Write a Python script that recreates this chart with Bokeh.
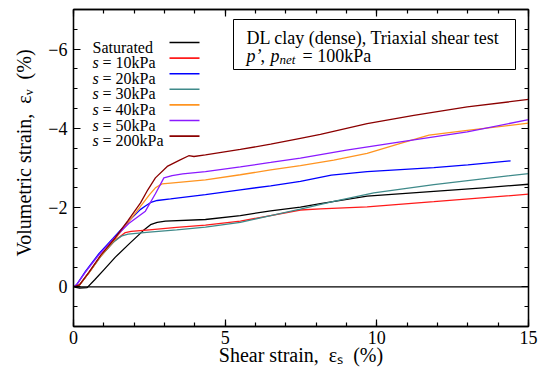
from bokeh.plotting import figure
from bokeh.models import (Range1d, FixedTicker, LinearAxis, CustomJSTickFormatter,
                          Span, Label, BoxAnnotation, Arrow)
from bokeh.embed import file_html
from bokeh.resources import INLINE

# ---------------- data ----------------
sat_x = [0, 0.2, 0.45, 0.7, 1.0, 1.38, 1.8, 2.3, 2.54, 2.76, 3.03, 4.35, 5.5, 6.5, 7.48, 8.14, 9.68, 11.88, 13.5, 15.0]
sat_y = [0, 0.03, 0.02, -0.18, -0.43, -0.75, -1.06, -1.42, -1.57, -1.63, -1.66, -1.7, -1.8, -1.92, -2.01, -2.1, -2.29, -2.41, -2.5, -2.59]

s10_x = [0, 0.2, 0.5, 0.9, 1.38, 1.71, 1.9, 2.5, 3.4, 4.35, 5.5, 6.5, 7.48, 8.14, 9.68, 11.88, 15.0]
s10_y = [0, -0.05, -0.35, -0.78, -1.18, -1.37, -1.4, -1.44, -1.5, -1.56, -1.66, -1.8, -1.94, -1.97, -2.02, -2.15, -2.34]

s20_x = [0, 0.1, 0.4, 0.83, 1.3, 1.82, 2.2, 2.37, 2.55, 2.76, 3.2, 4.35, 5.5, 6.5, 7.48, 8.5, 9.68, 11.88, 13.0, 14.41]
s20_y = [0, -0.05, -0.4, -0.83, -1.22, -1.66, -1.95, -2.04, -2.13, -2.18, -2.22, -2.33, -2.45, -2.55, -2.66, -2.82, -2.91, -3.01, -3.08, -3.18]

s30_x = [0, 0.2, 0.5, 0.9, 1.3, 1.6, 1.8, 2.5, 3.4, 4.35, 5.5, 6.5, 7.48, 8.58, 9.9, 11.88, 15.0]
s30_y = [0, -0.05, -0.35, -0.77, -1.12, -1.29, -1.33, -1.38, -1.44, -1.51, -1.63, -1.8, -1.96, -2.16, -2.37, -2.58, -2.86]

s40_x = [0, 0.2, 0.5, 0.9, 1.38, 1.8, 2.26, 2.5, 2.7, 2.92, 3.2, 4.35, 5.5, 6.5, 7.48, 8.58, 9.68, 10.78, 11.72, 12.98, 15.0]
s40_y = [0, -0.05, -0.35, -0.78, -1.22, -1.62, -2.08, -2.32, -2.5, -2.6, -2.62, -2.7, -2.83, -2.95, -3.06, -3.2, -3.37, -3.62, -3.83, -3.95, -4.13]

s50_x = [0, 0.1, 0.4, 0.83, 1.3, 1.82, 2.37, 2.7, 2.98, 3.25, 3.6, 4.35, 5.5, 6.5, 7.48, 9.0, 10.78, 12.98, 15.0]
s50_y = [0, -0.05, -0.38, -0.8, -1.2, -1.6, -1.91, -2.35, -2.75, -2.81, -2.85, -2.91, -3.03, -3.14, -3.25, -3.45, -3.66, -3.91, -4.22]

s200_x = [0, 0.2, 0.5, 0.9, 1.38, 1.8, 2.21, 2.45, 2.7, 3.09, 3.5, 3.8, 3.97, 4.35, 5.5, 6.5, 7.48, 8.14, 9.68, 11.22, 12.98, 15.0]
s200_y = [0, -0.05, -0.36, -0.8, -1.24, -1.68, -2.12, -2.45, -2.75, -3.04, -3.2, -3.31, -3.29, -3.33, -3.47, -3.6, -3.75, -3.85, -4.12, -4.33, -4.54, -4.73]

series_names = ["Saturated", "10kPa", "20kPa", "30kPa", "40kPa", "50kPa", "200kPa"]
series_colors = ["#000000", "#ff1a1a", "#0000ff", "#3f8a8a", "#ff9420", "#8a1aff", "#8b0000"]
series_data = [(sat_x, sat_y), (s10_x, s10_y), (s20_x, s20_y), (s30_x, s30_y),
               (s40_x, s40_y), (s50_x, s50_y), (s200_x, s200_y)]

x_major = [0, 5, 10, 15]
y_major = [-6, -4, -2, 0]
NB = "\u00a0"
x_title = "Shear strain," + NB + NB + "\u03b5\u209b" + NB + NB + "(%)"
y_title = NB * 6 + "Volumetric strain," + NB + NB + "\u03b5\u1d65" + NB + NB + "(%)"

FONT = "Liberation Serif"

p = figure(frame_width=455, frame_height=317,
           x_range=Range1d(0, 15), y_range=Range1d(1, -7),
           output_backend="svg", toolbar_location=None,
           min_border_left=73, min_border_right=20, min_border_top=9, min_border_bottom=46,
           background_fill_color="white", border_fill_color="white")
p.grid.visible = False
p.outline_line_color = "black"
p.outline_line_width = 1.3

xt = FixedTicker(ticks=x_major, minor_ticks=list(range(0, 16)))
yt = FixedTicker(ticks=y_major, minor_ticks=[-7 + 0.5 * i for i in range(17)])
fmt = CustomJSTickFormatter(code="return tick < 0 ? '\u2212' + Math.abs(tick) : String(tick);")

p.xaxis.ticker = xt
p.yaxis.ticker = yt
p.yaxis.formatter = fmt

for ax in (p.xaxis[0], p.yaxis[0]):
    ax.major_tick_in = 7
    ax.major_tick_out = 0
    ax.minor_tick_in = 4
    ax.minor_tick_out = 0
    ax.axis_line_width = 1.3
    ax.major_tick_line_width = 1.2
    ax.minor_tick_line_width = 1.2
    ax.major_label_text_font = FONT
    ax.major_label_text_font_size = "18px"
    ax.major_label_text_color = "black"
    ax.axis_label_text_font = FONT
    ax.axis_label_text_font_size = "20px"
    ax.axis_label_text_font_style = "normal"
    ax.axis_label_text_color = "black"
p.xaxis.axis_label = x_title
p.yaxis.axis_label = y_title
p.xaxis.major_label_standoff = 4
p.yaxis.major_label_standoff = 6
p.xaxis.axis_label_standoff = -3
p.yaxis.axis_label_standoff = 10

for loc, tk in (("above", xt), ("right", yt)):
    ax = LinearAxis(ticker=tk, major_tick_in=7, major_tick_out=0, minor_tick_in=4, minor_tick_out=0,
                    major_label_text_font_size="1px", major_label_text_color=None,
                    major_label_standoff=0,
                    axis_line_width=1.3, major_tick_line_width=1.2, minor_tick_line_width=1.2)
    p.add_layout(ax, loc)

p.add_layout(Span(location=0, dimension="width", line_color="black", line_width=1.3))

for (xs, ys), c in zip(series_data, series_colors):
    p.line(xs, ys, line_color=c, line_width=1.3)


def lab(x, y, text, size="18px", style="normal"):
    p.add_layout(Label(x=x, y=y, x_units="screen", y_units="screen", text=text,
                       text_font=FONT, text_font_size=size, text_font_style=style,
                       text_color="black", text_baseline="alphabetic"))


# ---- legend (label left, line sample right) ----
for i, (name, c) in enumerate(zip(series_names, series_colors)):
    base = 326 - (46.5 + i * 15.6)
    liney = 326 - (42 + i * 15.6)
    if i == 0:
        lab(19, base, name, size="16px")
    else:
        lab(19, base, "s", size="16px", style="italic")
        lab(29, base, "= " + name, size="16px")
    p.add_layout(Arrow(x_start=96, y_start=liney, x_end=126, y_end=liney,
                       start_units="screen", end_units="screen", end=None,
                       line_color=c, line_width=1.6))

# ---- title box ----
p.add_layout(BoxAnnotation(left=160, right=442, top=307, bottom=257,
                           left_units="screen", right_units="screen",
                           top_units="screen", bottom_units="screen",
                           fill_color="white", fill_alpha=1.0,
                           line_color="black", line_width=1.0, line_alpha=1.0))

lab(173, 289, "DL clay (dense), Triaxial shear test")
lab(173, 271, "p\u2019", style="italic")
lab(187, 271, ",")
lab(197, 271, "p", style="italic")
lab(206, 267, "net", size="13px", style="italic")
lab(229, 271, "= 100kPa")

open("out.html", "w").write(file_html(p, INLINE))
